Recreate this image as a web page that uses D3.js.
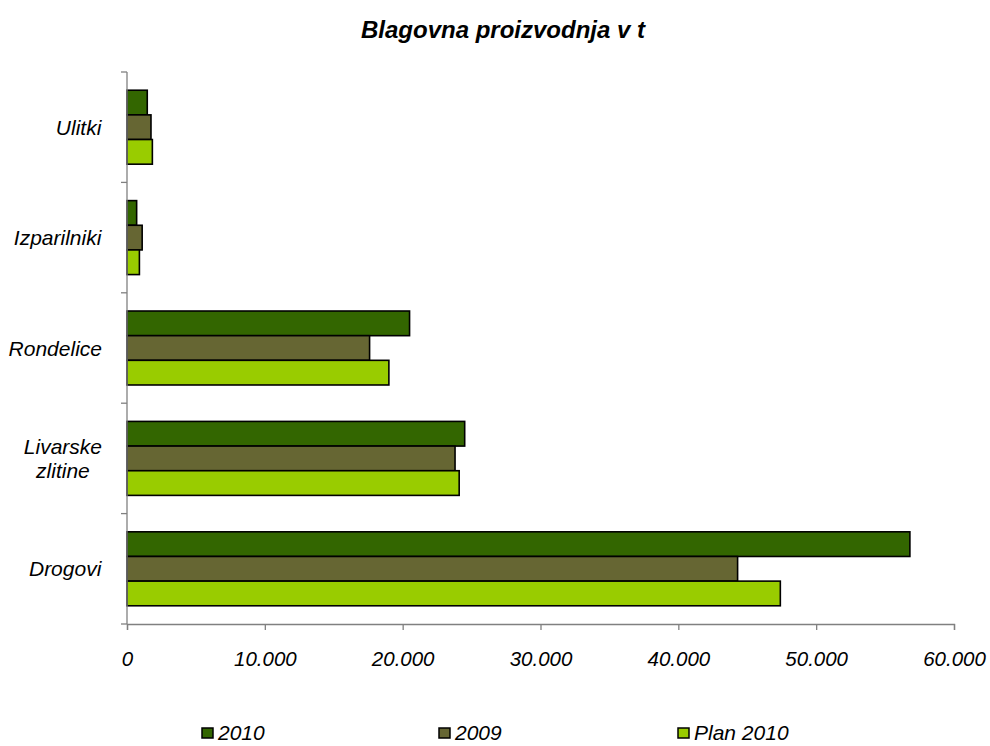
<!DOCTYPE html>
<html><head><meta charset="utf-8">
<script src="https://cdn.jsdelivr.net/npm/d3@7"></script>
<style>body{margin:0;background:#fff}svg{display:block}text{font-family:"Liberation Sans",Arial,sans-serif}</style>
</head><body>
<script>
const categories = ["Ulitki","Izparilniki","Rondelice","Livarske zlitine","Drogovi"];
const categoryLines = [["Ulitki"],["Izparilniki"],["Rondelice"],["Livarske","zlitine"],["Drogovi"]];
const seriesNames = ["2010","2009","Plan 2010"];
const values2010 = [1470, 700, 20500, 24500, 56800];
const values2009 = [1740, 1100, 17600, 23800, 44300];
const valuesPlan = [1840, 900, 19000, 24100, 47400];
const xTicks = [0,10000,20000,30000,40000,50000,60000];
const colors = ["#336600","#666633","#99CC00"];
const title = "Blagovna proizvodnja v t";

(function(){
const W=990,H=746;
const FF='"Liberation Sans",Arial,sans-serif';
const svg=d3.select("body").append("svg").attr("width",W).attr("height",H);
const pL=127,pR=954,pT=72,pB=624;
const x=d3.scaleLinear().domain([0,60000]).range([pL,pR]);
const y=d3.scaleBand().domain(categories).range([pT,pB]).paddingInner(0.33).paddingOuter(0.165);
const ySub=d3.scaleBand().domain(seriesNames).range([0,y.bandwidth()]);
const series=[values2010,values2009,valuesPlan];

svg.append("text").attr("x",503).attr("y",38).attr("text-anchor","middle")
  .style("font-weight","bold").style("font-style","italic").style("font-size","24px").text(title);

series.forEach((vals,si)=>{
  svg.append("g").selectAll("rect").data(vals).join("rect")
    .attr("x",x(0)).attr("y",(d,i)=>y(categories[i])+ySub(seriesNames[si]))
    .attr("width",d=>x(d)-x(0)).attr("height",ySub.bandwidth())
    .attr("fill",colors[si]).attr("stroke","#000").attr("stroke-width",1.6);
});

const xa=svg.append("g").attr("transform",`translate(0,${pB})`)
  .call(d3.axisBottom(x).tickValues(xTicks).tickSize(6).tickPadding(21)
  .tickFormat(d=>d3.format(",")(d).replace(/,/g,".")));
xa.select(".domain").attr("stroke","#808080").attr("stroke-width",1.3);
xa.selectAll(".tick line").attr("stroke","#808080").attr("stroke-width",1.3);
xa.selectAll("text").style("font-size","20.5px").style("font-style","italic").attr("fill","#000")
  .style("font-family",FF);

const step=(pB-pT)/categories.length;
svg.append("line").attr("x1",pL).attr("x2",pL).attr("y1",pT).attr("y2",pB).attr("stroke","#808080").attr("stroke-width",1.3);
d3.range(categories.length+1).forEach(i=>{
  svg.append("line").attr("x1",pL-6).attr("x2",pL).attr("y1",pT+i*step).attr("y2",pT+i*step).attr("stroke","#808080").attr("stroke-width",1.3);
});
categories.forEach((c,i)=>{
  const lines=categoryLines[i];
  const cy=y(c)+y.bandwidth()/2;
  const g=svg.append("g");
  const t=g.append("text").style("font-size","21px").style("font-style","italic").attr("text-anchor","middle");
  lines.forEach((ln,li)=>{
    t.append("tspan").attr("x",0).attr("y",cy+7.5+(li-(lines.length-1)/2)*24).text(ln);
  });
  const wmax=t.node().getBBox().width;
  g.attr("transform",`translate(${102-wmax/2},0)`);
});

const legX=[202,439,678];
seriesNames.forEach((s,i)=>{
  svg.append("rect").attr("x",legX[i]).attr("y",728).attr("width",11).attr("height",10)
    .attr("fill",colors[i]).attr("stroke","#000").attr("stroke-width",1.5);
  svg.append("text").attr("x",legX[i]+16).attr("y",740).style("font-size","21px").style("font-style","italic").text(s);
});
})();
</script>
</body></html>
